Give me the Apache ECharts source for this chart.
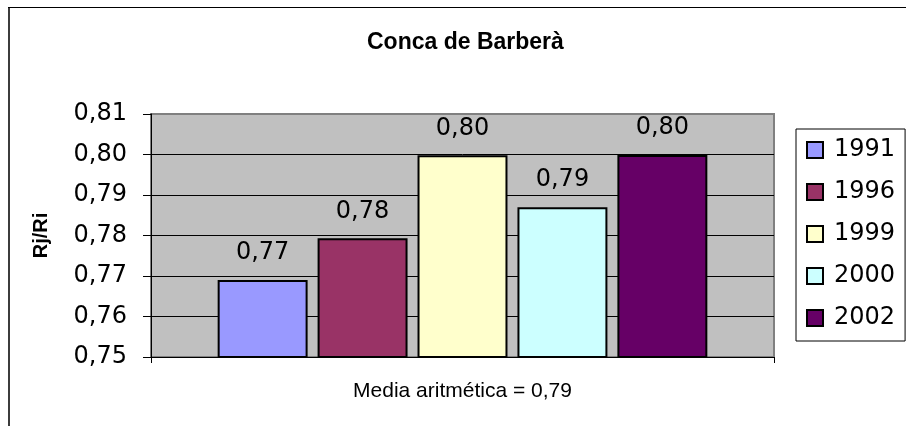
<!DOCTYPE html>
<html>
<head>
<meta charset="utf-8">
<script src="https://cdn.jsdelivr.net/npm/echarts@6/dist/echarts.min.js"></script>
<style>
html,body{margin:0;padding:0;background:#fff;}
#chart{width:906px;height:426px;}
</style>
</head>
<body>
<div id="chart"></div>
<script>
var titleText = 'Conca de Barberà';
var yAxisName = 'Rj/Ri';
var xAxisName = 'Media aritmética = 0,79';
var categories = [''];
var seriesNames = ['1991', '1996', '1999', '2000', '2002'];
var seriesValues = [0.769, 0.7793, 0.7998, 0.787, 0.7999];
var seriesColors = ['#9999FF', '#993366', '#FFFFCC', '#CCFFFF', '#660066'];
var yMin = 0.75, yMax = 0.81, yStep = 0.01;

function fmt(v) { return v.toFixed(2).replace('.', ','); }

var chart = echarts.init(document.getElementById('chart'), null, {renderer: 'canvas'});
var series = seriesNames.map(function (name, i) {
  return {
    name: name,
    type: 'bar',
    data: [seriesValues[i]],
    barGap: '11.1%',
    barCategoryGap: '21.4%',
    itemStyle: {color: seriesColors[i], borderColor: '#000', borderWidth: 2},
    label: {
      show: true, position: 'top', distance: 15,
      fontFamily: 'DejaVu Sans', fontSize: 24, color: '#000',
      formatter: function (p) { return fmt(p.value); }
    }
  };
});

chart.setOption({
  animation: false,
  backgroundColor: '#fff',
  title: {
    text: titleText, left: 362, top: 26,
    textStyle: {fontFamily: 'Liberation Sans', fontWeight: 'bold', fontSize: 23, color: '#000'}
  },
  graphic: [
    {type: 'line', shape: {x1: 9, y1: 7, x2: 9, y2: 426}, style: {stroke: '#3c3c3c', lineWidth: 2}},
    {type: 'line', shape: {x1: 8, y1: 7.5, x2: 906, y2: 7.5}, style: {stroke: '#000', lineWidth: 1}}
  ],
  legend: {
    orient: 'vertical', left: 796, top: 129,
    padding: [9, 10, 11, 10],
    itemWidth: 16, itemHeight: 16, itemGap: 18,
    backgroundColor: '#fff', borderColor: '#000', borderWidth: 1,
    icon: 'rect',
    textStyle: {fontFamily: 'DejaVu Sans', fontSize: 24, color: '#000', padding: [0, 0, 0, 6]},
    data: seriesNames
  },
  grid: {
    left: 151, right: 132, top: 114, bottom: 69,
    show: true, backgroundColor: '#C0C0C0', borderColor: '#808080', borderWidth: 2
  },
  xAxis: {
    type: 'category', data: categories,
    name: xAxisName, nameLocation: 'middle', nameGap: 24,
    nameTextStyle: {fontFamily: 'Liberation Sans', fontSize: 21, color: '#000'},
    axisLine: {show: true, lineStyle: {color: '#000', width: 1}},
    axisTick: {show: true, length: 6, lineStyle: {color: '#000'}},
    axisLabel: {show: false},
    splitLine: {show: false}
  },
  yAxis: {
    type: 'value', min: yMin, max: yMax, interval: yStep,
    name: yAxisName, nameLocation: 'middle', nameRotate: 90, nameGap: 100,
    nameTextStyle: {fontFamily: 'Liberation Sans', fontWeight: 'bold', fontSize: 20, color: '#000'},
    axisLine: {show: true, lineStyle: {color: '#000', width: 1}},
    axisTick: {show: true, length: 8, lineStyle: {color: '#000'}},
    axisLabel: {
      margin: 24, fontFamily: 'DejaVu Sans', fontSize: 24, color: '#000',
      formatter: function (v) { return fmt(v); }
    },
    splitLine: {show: true, showMaxLine: false, showMinLine: false, lineStyle: {color: '#000', width: 1}}
  },
  series: series
});
</script>
</body>
</html>
